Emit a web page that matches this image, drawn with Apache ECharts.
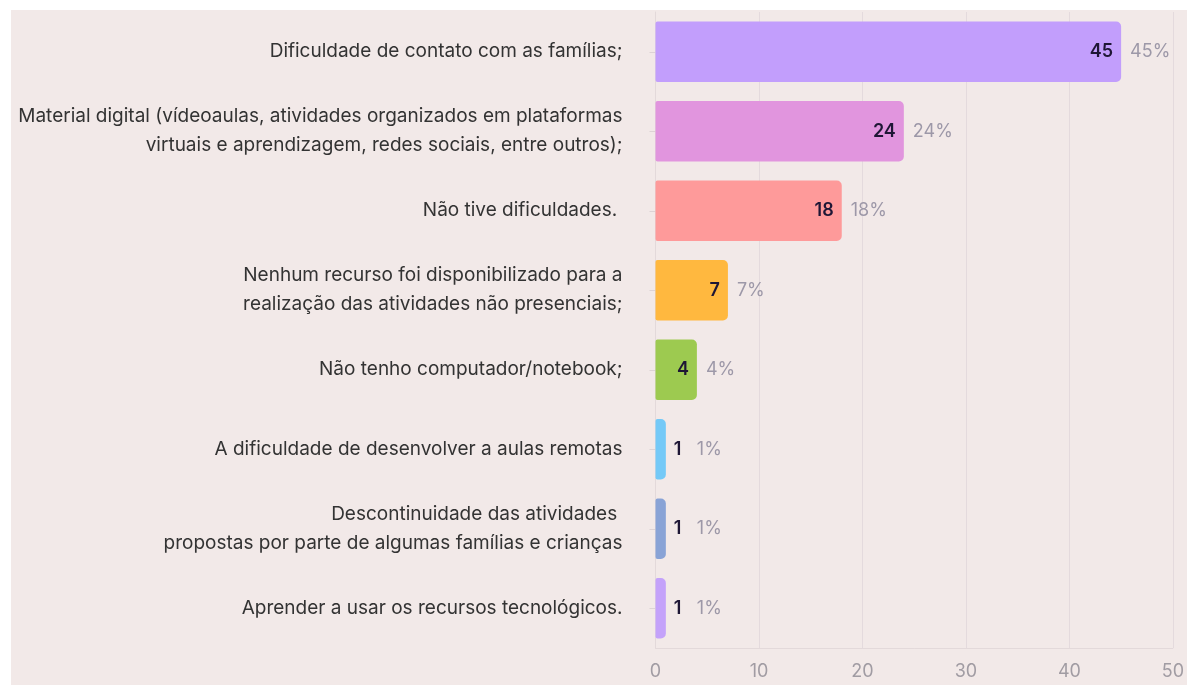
<!DOCTYPE html>
<html>
	<head>
		<meta charset="UTF-8">
		<title>Dificuldades</title>
		<script src="https://cdn.jsdelivr.net/npm/echarts@6/dist/echarts.min.js"></script>
		<style type="text/css">
			html, body {
				margin: 0;
				padding: 0;
				background: #ffffff;
			}
			.panel {
				position: absolute;
				left: 11px;
				top: 10px;
				right: 0;
				bottom: 0;
				background: #f2e9e8;
			}
			#chart {
				position: absolute;
				left: 0;
				top: 0;
				width: 1187px;
				height: 685px;
			}
		</style>
	</head>
	<body>
		<div class="panel"></div>
		<div id="chart"></div>
	</body>
	<script type="text/javascript">
		// respostas (de cima para baixo)
		var categories = [
			"Dificuldade de contato com as famílias;",
			"Material digital (vídeoaulas, atividades organizados em plataformas\nvirtuais e aprendizagem, redes sociais, entre outros);",
			"Não tive dificuldades. ",
			"Nenhum recurso foi disponibilizado para a\nrealização das atividades não presenciais;",
			"Não tenho computador/notebook;",
			"A dificuldade de desenvolver a aulas remotas",
			"Descontinuidade das atividades \npropostas por parte de algumas famílias e crianças",
			"Aprender a usar os recursos tecnológicos."
		];
		var counts = [45, 24, 18, 7, 4, 1, 1, 1];
		var percents = [45, 24, 18, 7, 4, 1, 1, 1];
		var barColors = ["#c29efc", "#e195de", "#fe9a9a", "#ffb83f", "#9dca50", "#74c9f7", "#89a3d6", "#c4a2fa"];
		var xTicks = [0, 10, 20, 30, 40, 50];

		var chart = echarts.init(document.getElementById('chart'));

		var mainData = counts.map(function(v, i) {
			return {
				value: v,
				itemStyle: { color: barColors[i] },
				label: { position: v >= 3 ? 'insideRight' : 'right' }
			};
		});
		var pctData = counts.map(function(v, i) {
			return {
				value: v,
				label: { offset: [v >= 3 ? 0 : 22, 0] }
			};
		});

		var option = {
			animation: false,
			grid: {
				left: 655.5,
				right: 10.5,
				top: 12,
				bottom: 37,
				containLabel: false
			},
			xAxis: {
				type: 'value',
				min: xTicks[0],
				max: xTicks[xTicks.length - 1],
				interval: 10,
				axisLine: { show: true, lineStyle: { color: '#e3d9da' } },
				axisTick: { show: false },
				splitLine: { show: true, lineStyle: { color: '#e4dadd', width: 1 } },
				axisLabel: {
					color: '#a19ca3',
					fontSize: 18,
					fontFamily: 'Inter',
					margin: 15
				}
			},
			yAxis: {
				type: 'category',
				inverse: true,
				data: categories,
				axisLine: { show: true, lineStyle: { color: '#e3d9da' } },
				axisTick: { show: true, alignWithLabel: true, length: 6, lineStyle: { color: '#ddd3d5' } },
				axisLabel: {
					color: '#333333',
					fontSize: 19,
					fontFamily: 'Inter',
					lineHeight: 29,
					margin: 33,
					align: 'right'
				}
			},
			series: [{
				type: 'bar',
				data: mainData,
				barCategoryGap: '24%',
				itemStyle: { borderRadius: [2, 5, 5, 2] },
				label: {
					show: true,
					distance: 8,
					color: '#1e1635',
					fontSize: 18,
					fontWeight: 600,
					fontFamily: 'Inter',
					formatter: '{c}'
				},
				z: 2
			}, {
				type: 'bar',
				data: pctData,
				barGap: '-100%',
				barCategoryGap: '24%',
				itemStyle: { color: 'rgba(0,0,0,0)' },
				label: {
					show: true,
					position: 'right',
					distance: 9,
					color: '#9d98a8',
					fontSize: 18,
					fontFamily: 'Inter',
					formatter: function(p) {
						return percents[p.dataIndex] + '%';
					}
				},
				z: 3
			}]
		};
		chart.setOption(option);
	</script>
</html>
